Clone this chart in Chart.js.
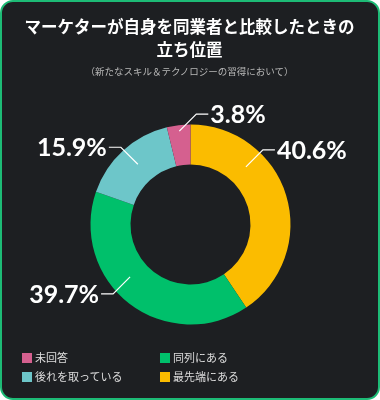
<!DOCTYPE html>
<html>
<head>
<meta charset="utf-8">
<script src="https://cdn.jsdelivr.net/npm/chart.js@4"></script>
<style>
  html, body { margin: 0; padding: 0; background: #ffffff; }
  .card {
    position: relative; width: 380px; height: 400px; box-sizing: border-box;
    border: 2.5px solid #1dbb76; border-radius: 13px; background: #1d1f22; overflow: hidden;
    font-family: "Noto Sans CJK JP", "Noto Sans", sans-serif;
  }
  .title {
    position: absolute; left: 0; top: 13px; width: 375px; text-align: center;
    color: #ffffff; font-weight: bold; font-size: 16.5px; line-height: 23px;
  }
  .subtitle {
    position: absolute; left: 0; top: 62px; width: 375px; text-align: center;
    color: #b8b8b8; font-size: 9.5px;
  }
  canvas { position: absolute; left: -2.5px; top: -2.5px; }
  .legend { position: absolute; left: 20px; top: 348px; width: 340px; }
  .legend .item {
    position: absolute; color: #dedede; font-size: 11px; line-height: 14px; white-space: nowrap;
  }
  .legend .box { display: inline-block; width: 10px; height: 10px; margin-right: 3px; vertical-align: -1px; }
</style>
</head>
<body>
<div class="card">
  <canvas id="myChart" width="380" height="400"></canvas>
  <div class="title">マーケターが自身を同業者と比較したときの<br>立ち位置</div>
  <div class="subtitle">（新たなスキル＆テクノロジーの習得において）</div>
  <div class="legend" id="legend"></div>
</div>
<script>
// data, clockwise from 12 o'clock
var labels = ['最先端にある', '同列にある', '後れを取っている', '未回答'];
var values = [40.6, 39.7, 15.9, 3.8];
var colors = ['#fbbc00', '#00c06b', '#6dc6c9', '#d5608f'];
var legendOrder = [3, 1, 2, 0];

// leader line: fraction along the arc, fraction across the ring, x dir, y dir
var leaderAt = [[0.3, 0.5, 1, -1], [0.58, 0.5, -1, 1], [0.52, 0.5, -1, -1], [0.5, 0.85, 1, -1]];

var legend = document.getElementById('legend');
for (var i = 0; i < legendOrder.length; i++) {
  var k = legendOrder[i];
  var el = document.createElement('div');
  el.className = 'item';
  el.style.left = (i % 2 == 0 ? 0 : 138) + 'px';
  el.style.top = (Math.floor(i / 2) * 19) + 'px';
  el.innerHTML = '<span class="box" style="background:' + colors[k] + '"></span>' + labels[k];
  legend.appendChild(el);
}

var leaderLabels = {
  id: 'leaderLabels',
  afterDatasetsDraw: function(chart) {
    var ctx = chart.ctx;
    var arcs = chart.getDatasetMeta(0).data;
    ctx.save();
    ctx.strokeStyle = '#ffffff';
    ctx.lineWidth = 1.2;
    ctx.fillStyle = '#ffffff';
    ctx.font = 'bold 25px Lato, "Noto Sans", sans-serif';
    ctx.textBaseline = 'middle';
    for (var i = 0; i < arcs.length; i++) {
      var p = arcs[i].getProps(['x', 'y', 'startAngle', 'endAngle', 'innerRadius', 'outerRadius'], true);
      var a = p.startAngle + leaderAt[i][0] * (p.endAngle - p.startAngle);
      var r = p.innerRadius + leaderAt[i][1] * (p.outerRadius - p.innerRadius);
      var x0 = p.x + Math.cos(a) * r;
      var y0 = p.y + Math.sin(a) * r;
      var sx = leaderAt[i][2], sy = leaderAt[i][3];
      var x1 = x0 + sx * 17, y1 = y0 + sy * 17;
      var x2 = x1 + sx * 12;
      ctx.beginPath();
      ctx.moveTo(x0, y0);
      ctx.lineTo(x1, y1);
      ctx.lineTo(x2, y1);
      ctx.stroke();
      ctx.textAlign = sx > 0 ? 'left' : 'right';
      ctx.fillText(values[i].toFixed(1) + '%', x2 + sx * 2, y1 + 1);
    }
    ctx.restore();
  }
};

const ctx = document.getElementById('myChart');
var chart = new Chart(ctx, {
  type: 'doughnut',
  data: {
    labels: labels,
    datasets: [{
      data: values,
      backgroundColor: colors,
      borderWidth: 0
    }]
  },
  options: {
    responsive: false,
    animation: false,
    cutout: '60%',
    layout: { padding: { top: 124.5, bottom: 75.5, left: 90.5, right: 89.5 } },
    plugins: {
      legend: { display: false },
      tooltip: { enabled: false }
    }
  },
  plugins: [leaderLabels]
});
</script>
</body>
</html>
